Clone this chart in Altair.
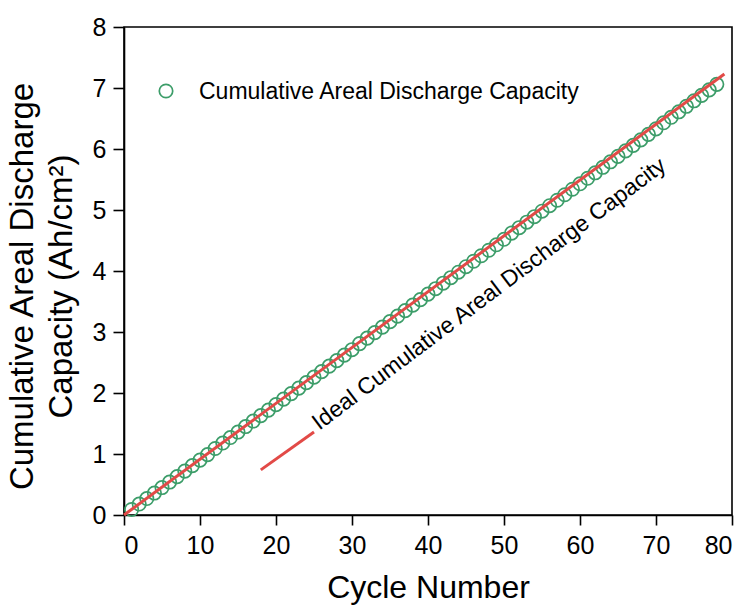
import altair as alt
import pandas as pd

# Cumulative areal discharge capacity measured at each cycle (Ah/cm^2)
cycles = list(range(1, 79))
capacity = [
    0.09, 0.18, 0.27, 0.36, 0.45, 0.54, 0.63, 0.72, 0.81, 0.90,
    0.99, 1.09, 1.18, 1.27, 1.36, 1.45, 1.54, 1.63, 1.72, 1.81,
    1.90, 1.99, 2.08, 2.17, 2.26, 2.35, 2.44, 2.53, 2.62, 2.71,
    2.81, 2.90, 2.99, 3.08, 3.17, 3.26, 3.35, 3.44, 3.53, 3.62,
    3.71, 3.80, 3.89, 3.98, 4.07, 4.16, 4.25, 4.34, 4.43, 4.52,
    4.62, 4.71, 4.80, 4.89, 4.98, 5.07, 5.16, 5.25, 5.34, 5.43,
    5.52, 5.61, 5.70, 5.79, 5.88, 5.97, 6.06, 6.15, 6.24, 6.33,
    6.43, 6.52, 6.61, 6.70, 6.79, 6.88, 6.97, 7.06,
]

# Ideal cumulative capacity (straight line)
ideal_cycle = [0, 79]
ideal_capacity = [0.0, 7.23]

# Key segment and label for the ideal line
key_cycle = [18, 25]
key_capacity = [0.74, 1.36]
ideal_label = "Ideal Cumulative Areal Discharge Capacity"
ideal_label_pos = (25.7, 1.38)

legend_label = "Cumulative Areal Discharge Capacity"

x_ticks = [v * 5 for v in range(17)]
y_ticks = [v * 0.5 for v in range(17)]

GREEN = "#3c9d69"
RED = "#e24a47"
FONT = "Liberation Sans"

measured = pd.DataFrame({"cycle": cycles, "capacity": capacity})
ideal = pd.DataFrame({"cycle": ideal_cycle, "capacity": ideal_capacity})
key = pd.DataFrame({"cycle": key_cycle, "capacity": key_capacity})
label_df = pd.DataFrame({"cycle": [ideal_label_pos[0]], "capacity": [ideal_label_pos[1]], "text": [ideal_label]})
legend_df = pd.DataFrame({"text": [legend_label]})

x_scale = alt.Scale(domain=[0, 80], nice=False, zero=False)
y_scale = alt.Scale(domain=[0, 8], nice=False, zero=False)

x_axis = alt.Axis(
    values=x_ticks,
    labelExpr="datum.value % 10 === 0 ? '' + datum.value : ''",
    tickSize={"condition": {"test": "datum.value % 10 === 0", "value": 10}, "value": 5},
    labelPadding=8,
    labelFontSize=25,
    labelFont=FONT,
    labelColor="black",
    labelOverlap=False,
    grid=False,
    title="Cycle Number",
    titleFontSize=32,
    titleFont=FONT,
    titleFontWeight="normal",
    titleColor="black",
    titleBaseline="alphabetic",
    titleY=82,
)

y_axis = alt.Axis(
    values=y_ticks,
    labelExpr="datum.value % 1 === 0 ? '' + datum.value : ''",
    tickSize={"condition": {"test": "datum.value % 1 === 0", "value": 11}, "value": 5},
    labelPadding=7,
    labelFontSize=25,
    labelFont=FONT,
    labelColor="black",
    labelOverlap=False,
    grid=False,
    title=["Cumulative Areal Discharge", "Capacity (Ah/cm²)"],
    titleFontSize=33,
    titleFont=FONT,
    titleFontWeight="normal",
    titleColor="black",
    titleAngle=270,
    titleAlign="center",
    titleBaseline="alphabetic",
    titleLineHeight=39,
    titleX=-92,
    titleY=259,
)

points = alt.Chart(measured).mark_point(
    shape="circle", filled=False, size=180, strokeWidth=1.7, color=GREEN, opacity=1
).encode(
    x=alt.X("cycle:Q", scale=x_scale, axis=x_axis),
    y=alt.Y("capacity:Q", scale=y_scale, axis=y_axis),
)

ideal_line = alt.Chart(ideal).mark_line(color=RED, strokeWidth=3).encode(
    x="cycle:Q", y="capacity:Q"
)

key_line = alt.Chart(key).mark_line(color=RED, strokeWidth=3).encode(
    x="cycle:Q", y="capacity:Q"
)

ideal_text = alt.Chart(label_df).mark_text(
    align="left", baseline="alphabetic", angle=323, fontSize=23, font=FONT, color="black"
).encode(x="cycle:Q", y="capacity:Q", text="text:N")

legend_symbol = alt.Chart(legend_df).mark_point(
    shape="circle", filled=False, size=180, strokeWidth=1.7, color=GREEN, opacity=1
).encode(x=alt.value(42), y=alt.value(64))

legend_text = alt.Chart(legend_df).mark_text(
    align="left", baseline="middle", fontSize=23, font=FONT, color="black"
).encode(x=alt.value(75), y=alt.value(65), text="text:N")

chart = (
    alt.layer(points, ideal_line, key_line, ideal_text, legend_symbol, legend_text)
    .properties(
        width=608,
        height=488,
        autosize=alt.AutoSizeParams(type="none"),
        padding={"left": 124, "top": 27, "right": 18, "bottom": 92},
        background="white",
    )
    .configure_view(stroke="black", strokeWidth=1.6)
    .configure_axis(domainColor="black", domainWidth=1.6, tickColor="black", tickWidth=1.6)
)

chart.save("out.html", embed_options={"renderer": "svg", "actions": False})
